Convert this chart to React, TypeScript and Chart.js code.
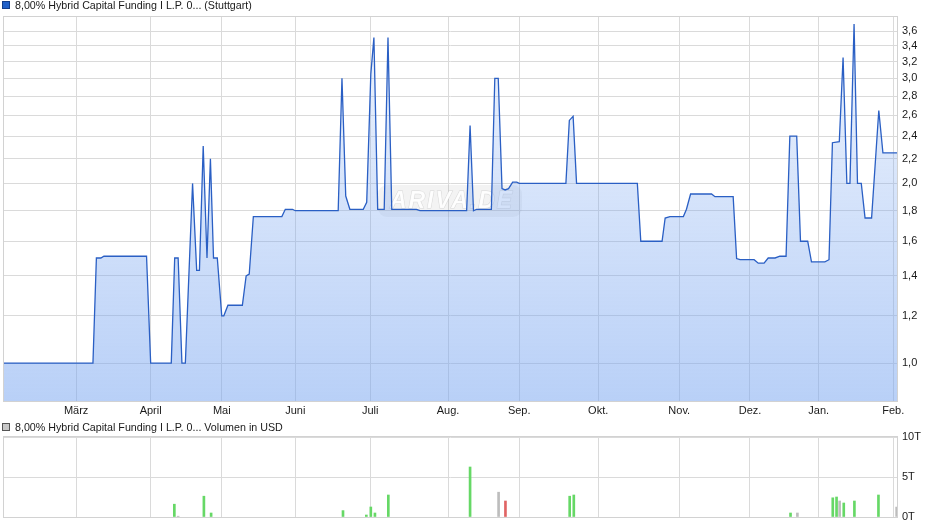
import React, { useEffect, useRef } from 'react';
import { Chart, registerables } from 'chart.js';

Chart.register(...registerables);

const FONT = "'Liberation Sans', Arial, Helvetica, sans-serif";

const priceTitle = '8,00% Hybrid Capital Funding I L.P. 0... (Stuttgart)';
const volumeTitle = '8,00% Hybrid Capital Funding I L.P. 0... Volumen in USD';

// x axis: trading-day index
const monthLabels = ['März', 'April', 'Mai', 'Juni', 'Juli', 'Aug.', 'Sep.', 'Okt.', 'Nov.', 'Dez.', 'Jan.', 'Feb.'];
const monthPos = [21.0, 42.7, 63.4, 84.8, 106.6, 129.3, 150.0, 173.0, 196.6, 217.2, 237.2, 258.9];
const dayMin = 0;
const dayMax = 260;

const priceTicks = [1.0, 1.2, 1.4, 1.6, 1.8, 2.0, 2.2, 2.4, 2.6, 2.8, 3.0, 3.2, 3.4, 3.6];
const priceMin = 0.864;
const priceMax = 3.8;

const priceDay = [
  0, 25.9, 26.9, 28.2, 29.1, 41.5, 42.7, 48.7, 49.7, 50.7, 51.8, 52.8, 54.9, 56.1, 56.9, 58.0, 59.1, 60.1, 61.0, 62.1,
  63.4, 64.0, 65.2, 69.4, 70.5, 71.4, 72.6, 80.9, 81.9, 84.0, 84.8, 97.3, 98.4, 99.5, 100.7, 104.6, 105.6, 106.8, 107.7,
  108.8, 110.7, 111.8, 112.9, 120.1, 121.1, 134.7, 135.7, 136.7, 137.6, 141.9, 142.9, 143.9, 145.0, 145.9, 146.9, 148.1,
  149.3, 150.0, 163.6, 164.6, 165.7, 166.7, 184.4, 185.4, 191.6, 192.5, 193.9, 197.8, 198.7, 199.9, 206.0, 207.0, 212.3,
  213.3, 214.3, 218.4, 219.6, 221.3, 222.5, 224.5, 225.9, 227.7, 228.8, 230.8, 231.9, 234.0, 235.1, 239.0, 240.2, 241.2,
  243.2, 244.3, 245.4, 246.3, 247.5, 248.5, 249.6, 250.7, 252.6, 254.7, 255.9, 260,
];
const priceValue = [
  1.0, 1.0, 1.5, 1.5, 1.51, 1.51, 1.0, 1.0, 1.5, 1.5, 1.0, 1.0, 2.0, 1.43, 1.43, 2.31, 1.5, 2.2, 1.5, 1.5,
  1.2, 1.2, 1.25, 1.25, 1.4, 1.41, 1.76, 1.76, 1.81, 1.81, 1.8, 1.8, 3.0, 1.905, 1.81, 1.81, 1.86, 3.05, 3.51,
  1.81, 1.81, 3.51, 1.81, 1.81, 1.8, 1.8, 2.5, 1.8, 1.81, 1.81, 3.0, 3.0, 1.96, 1.95, 1.96, 2.01,
  2.01, 2.0, 2.0, 2.55, 2.59, 2.0, 2.0, 1.6, 1.6, 1.75, 1.76, 1.76, 1.81, 1.92, 1.92, 1.9, 1.9,
  1.497, 1.49, 1.49, 1.47, 1.47, 1.5, 1.5, 1.51, 1.51, 2.4, 2.4, 1.6, 1.6, 1.478, 1.478, 1.49, 2.34,
  2.35, 3.25, 2.0, 2.0, 3.7, 2.0, 2.0, 1.75, 1.75, 2.65, 2.25, 2.25,
];

// volume in thousands (T)
const volumeTicks = [0, 5, 10];
const volumeDay = [49.6, 50.7, 58.2, 60.3, 98.7, 105.5, 106.8, 108.0, 111.9, 135.7, 144.0, 146.0, 164.7, 165.9, 229.0, 231.0, 241.3, 242.4, 243.3, 244.5, 247.6, 254.6, 259.9];
const volumeValue = [1.6, 0.1, 2.6, 0.5, 0.8, 0.25, 1.25, 0.5, 2.75, 6.25, 3.1, 2.0, 2.6, 2.75, 0.5, 0.5, 2.4, 2.5, 2.0, 1.75, 2.0, 2.75, 1.25];
const volumeKind = ['up', 'flat', 'up', 'up', 'up', 'up', 'up', 'up', 'up', 'up', 'flat', 'down', 'up', 'up', 'up', 'flat', 'up', 'up', 'flat', 'up', 'up', 'up', 'flat'];

const KIND_COLORS: Record<string, string> = { up: '#66d866', flat: '#bdbdbd', down: '#e06464' };
const GRID = '#dadada';
const TEXT = '#1a1a1a';

const boxPlugin = {
  id: 'plotBox',
  afterDraw(chart: any) {
    const { ctx, chartArea: a } = chart;
    ctx.save();
    ctx.strokeStyle = '#d2d2d2';
    ctx.lineWidth = 1;
    ctx.strokeRect(a.left - 0.5, a.top - 0.5, a.right - a.left + 1, a.bottom - a.top + 1);
    ctx.restore();
  },
};

const watermarkPlugin = {
  id: 'watermark',
  beforeDatasetsDraw(chart: any) {
    const { ctx } = chart;
    const cx = 450;
    const cy = 201;
    ctx.save();
    ctx.fillStyle = 'rgba(120,120,120,0.09)';
    const w = 144, h = 32, r = 9;
    ctx.beginPath();
    ctx.roundRect(cx - w / 2, cy - h / 2, w, h, r);
    ctx.fill();
    ctx.font = `italic bold 23px ${FONT}`;
    ctx.textAlign = 'center';
    ctx.textBaseline = 'middle';
    try { (ctx as any).letterSpacing = '2px'; } catch (e) {}
    ctx.fillStyle = 'rgba(255,255,255,0.9)';
    ctx.strokeStyle = 'rgba(150,150,150,0.3)';
    ctx.lineWidth = 1;
    ctx.strokeText('ARIVA.DE', cx + 2, cy + 1);
    ctx.fillText('ARIVA.DE', cx + 2, cy + 1);
    ctx.restore();
  },
};

const fitRightAxis = (s: any) => {
  s.width = 43;
  s.paddingTop = 0;
  s.paddingBottom = 0;
};

function PriceChart() {
  const ref = useRef<HTMLCanvasElement | null>(null);
  useEffect(() => {
    if (!ref.current) return;
    const chart = new Chart(ref.current, {
      type: 'line',
      data: {
        datasets: [
          {
            data: priceDay.map((d, i) => ({ x: d, y: priceValue[i] })),
            borderColor: '#2a5fc4',
            borderWidth: 1.3,
            pointRadius: 0,
            tension: 0,
            fill: 'start',
            backgroundColor: (c: any) => {
              const a = c.chart.chartArea;
              if (!a) return 'rgba(120,165,240,0.3)';
              const g = c.chart.ctx.createLinearGradient(0, a.top, 0, a.bottom);
              g.addColorStop(0, 'rgba(120,165,240,0.12)');
              g.addColorStop(1, 'rgba(120,165,240,0.52)');
              return g;
            },
          },
        ],
      },
      options: {
        animation: false,
        responsive: false,
        events: [],
        layout: { padding: { left: 4, top: 17, right: 0, bottom: 0 } },
        plugins: { legend: { display: false }, tooltip: { enabled: false } },
        scales: {
          x: {
            type: 'linear',
            min: dayMin,
            max: dayMax,
            afterBuildTicks: (s: any) => { s.ticks = monthPos.map((v) => ({ value: v })); },
            afterFit: (s: any) => { s.height = 19; },
            grid: { color: GRID, drawTicks: false, lineWidth: 1 },
            border: { display: false },
            ticks: {
              autoSkip: false,
              maxRotation: 0,
              padding: 3,
              color: TEXT,
              font: { family: FONT, size: 11 },
              callback: (_v: any, i: number) => monthLabels[i],
            },
          },
          y: {
            type: 'logarithmic',
            position: 'right',
            min: priceMin,
            max: priceMax,
            afterBuildTicks: (s: any) => { s.ticks = priceTicks.map((v) => ({ value: v })); },
            afterFit: fitRightAxis,
            grid: { color: GRID, drawTicks: false, lineWidth: 1 },
            border: { display: false },
            ticks: {
              autoSkip: false,
              padding: 5,
              color: TEXT,
              font: { family: FONT, size: 11 },
              callback: (v: any) => Number(v).toFixed(1).replace('.', ','),
            },
          },
        },
      } as any,
      plugins: [boxPlugin, watermarkPlugin],
    });
    return () => chart.destroy();
  }, []);
  return <canvas ref={ref} width={940} height={420} style={{ position: 'absolute', left: 0, top: 0, width: 940, height: 420 }} />;
}

function VolumeChart() {
  const ref = useRef<HTMLCanvasElement | null>(null);
  useEffect(() => {
    if (!ref.current) return;
    const chart = new Chart(ref.current, {
      type: 'bar',
      data: {
        datasets: [
          {
            data: volumeDay.map((d, i) => ({ x: d, y: volumeValue[i] })),
            backgroundColor: volumeKind.map((k) => KIND_COLORS[k]),
            borderWidth: 0,
            barThickness: 2,
          },
        ],
      },
      options: {
        animation: false,
        responsive: false,
        events: [],
        layout: { padding: { left: 4, top: 17, right: 0, bottom: 0 } },
        plugins: { legend: { display: false }, tooltip: { enabled: false } },
        scales: {
          x: {
            type: 'linear',
            min: dayMin,
            max: dayMax,
            offset: false,
            afterBuildTicks: (s: any) => { s.ticks = monthPos.map((v) => ({ value: v })); },
            afterFit: (s: any) => { s.height = 9; },
            grid: { color: GRID, drawTicks: false, offset: false },
            border: { display: false },
            ticks: { display: false },
          },
          y: {
            type: 'linear',
            position: 'right',
            min: 0,
            max: 10,
            afterBuildTicks: (s: any) => { s.ticks = volumeTicks.map((v) => ({ value: v })); },
            afterFit: fitRightAxis,
            grid: { color: GRID, drawTicks: false },
            border: { display: false },
            ticks: {
              autoSkip: false,
              padding: 5,
              color: TEXT,
              font: { family: FONT, size: 11 },
              callback: (v: any) => `${v}T`,
            },
          },
        },
      } as any,
      plugins: [boxPlugin],
    });
    return () => chart.destroy();
  }, []);
  return <canvas ref={ref} width={940} height={106} style={{ position: 'absolute', left: 0, top: 420, width: 940, height: 106 }} />;
}

function Title({ top, text, color, border }: { top: number; text: string; color: string; border: string }) {
  return (
    <div style={{ position: 'absolute', left: 0, top, height: 13, whiteSpace: 'nowrap', font: `10.7px ${FONT}`, color: TEXT, lineHeight: '13px' }}>
      <span style={{ position: 'absolute', left: 2, top: 2, width: 6, height: 6, background: color, border: `1px solid ${border}` }} />
      <span style={{ position: 'absolute', left: 15, top: 0 }}>{text}</span>
    </div>
  );
}

export default function App() {
  return (
    <div style={{ position: 'absolute', left: 0, top: 0, width: 940, height: 526, background: '#fff', overflow: 'hidden', fontFamily: FONT }}>
      <PriceChart />
      <VolumeChart />
      <Title top={-1} text={priceTitle} color="#2060c8" border="#123d8a" />
      <Title top={421} text={volumeTitle} color="#c8c8c8" border="#555" />
    </div>
  );
}
